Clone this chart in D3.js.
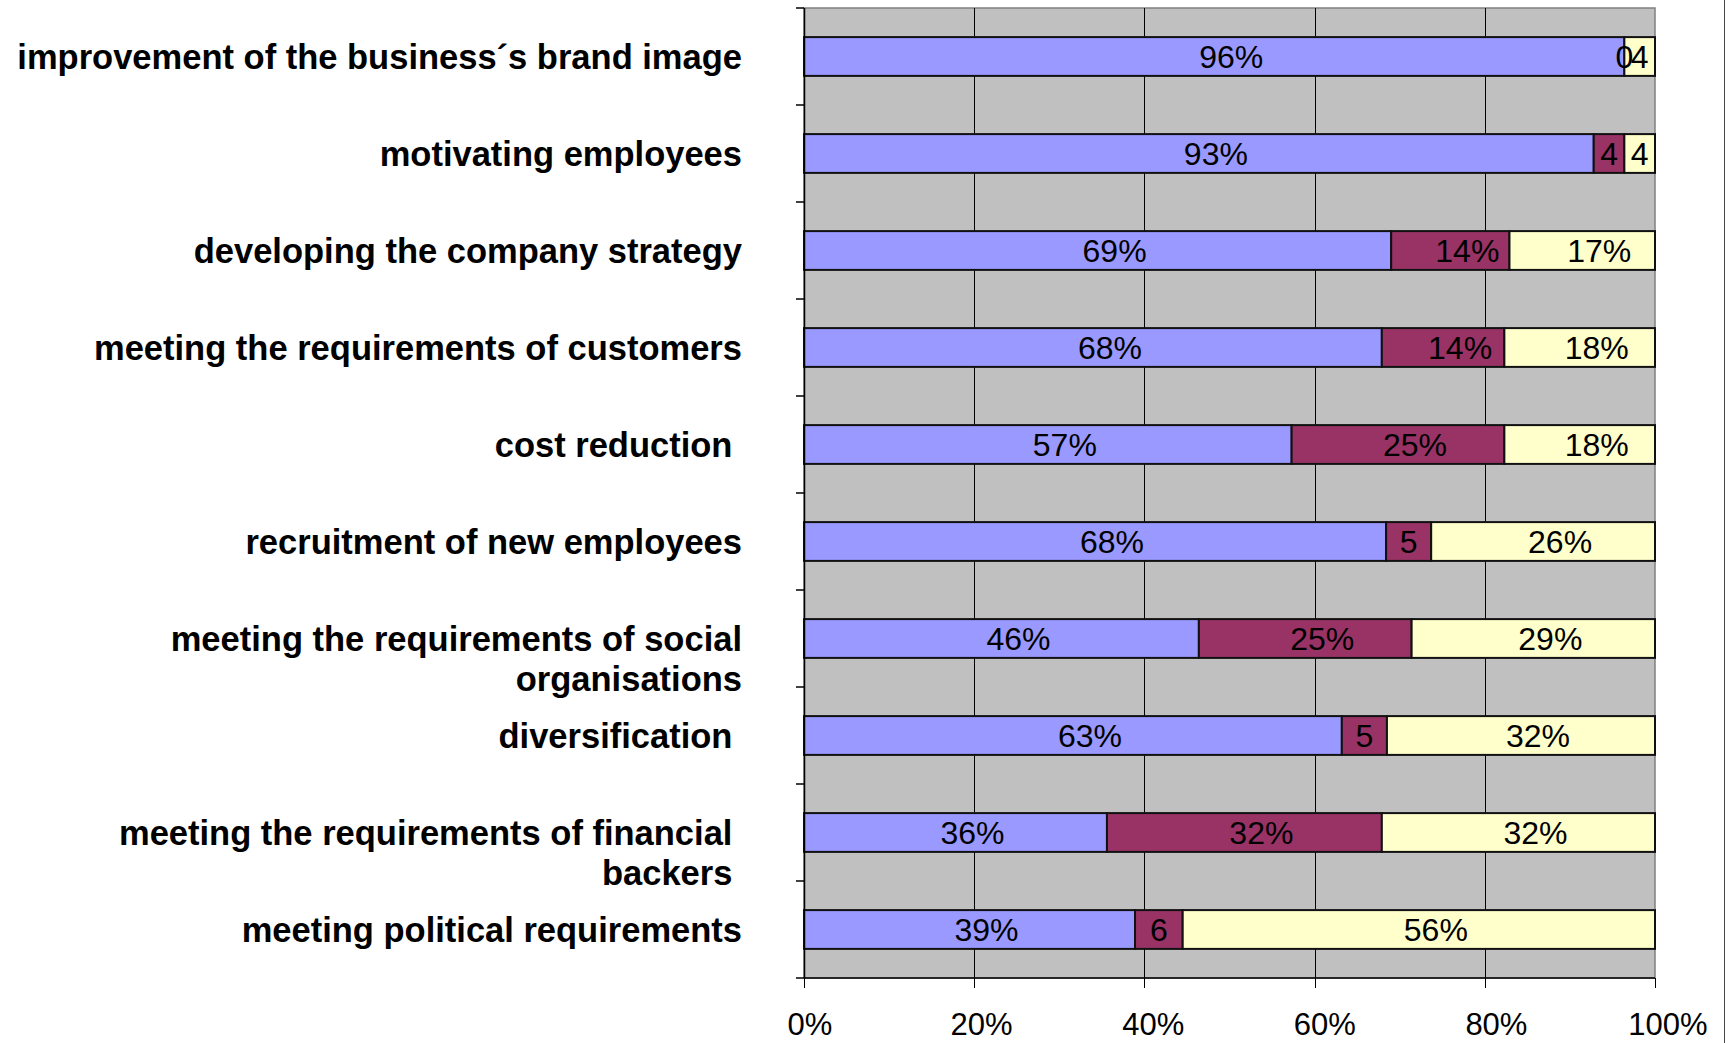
<!DOCTYPE html>
<html>
<head>
<meta charset="utf-8">
<script src="https://cdn.jsdelivr.net/npm/d3@7"></script>
<style>
  body { margin: 0; background: #fff; }
  text { font-family: "Liberation Sans", Arial, sans-serif; white-space: pre; }
</style>
</head>
<body>
<script>
// Categories (top to bottom), each label split into lines
var categories = [
  ["improvement of the business\u00b4s brand image"],
  ["motivating employees"],
  ["developing the company strategy"],
  ["meeting the requirements of customers"],
  ["cost reduction "],
  ["recruitment of new employees"],
  ["meeting the requirements of social", "organisations"],
  ["diversification "],
  ["meeting the requirements of financial ", "backers "],
  ["meeting political requirements"]
];

// Series values (%)
var blueValues   = [96.4, 92.8, 69.0, 67.9, 57.3, 68.4, 46.4, 63.2, 35.6, 38.9];
var maroonValues = [0.0,  3.6,  13.9, 14.4, 25.0, 5.3,  25.0, 5.3,  32.3, 5.6];
var yellowValues = [3.6,  3.6,  17.1, 17.7, 17.7, 26.3, 28.6, 31.5, 32.1, 55.5];

var xTicks = [0, 20, 40, 60, 80, 100];
var seriesColors = ["#9999FF", "#993366", "#FFFFCC"];

var svgWidth = 1728, svgHeight = 1043;
var chartMargin = { top: 8, right: 73, bottom: 65, left: 804 };
var chartWidth = svgWidth - chartMargin.left - chartMargin.right;
var chartHeight = svgHeight - chartMargin.top - chartMargin.bottom;

var svg = d3.select("body").append("svg")
  .attr("width", svgWidth)
  .attr("height", svgHeight);

// outer right frame line
svg.append("line")
  .attr("x1", 1724.5).attr("x2", 1724.5)
  .attr("y1", 0).attr("y2", svgHeight)
  .attr("stroke", "#444").attr("stroke-width", 1);

var chartGroup = svg.append("g")
  .attr("transform", `translate(${chartMargin.left}, ${chartMargin.top})`);

var xScale = d3.scaleLinear().domain([0, 100]).range([0, chartWidth]);
var yScale = d3.scaleBand()
  .domain(d3.range(categories.length))
  .range([0, chartHeight])
  .paddingInner(0.6)
  .paddingOuter(0.3);

// stacked data
var rows = categories.map(function(c, i) {
  return { i: i, blue: blueValues[i], maroon: maroonValues[i], yellow: yellowValues[i] };
});
var stack = d3.stack().keys(["blue", "maroon", "yellow"]);
var series = stack(rows);

// plot background
chartGroup.append("rect")
  .attr("x", 0).attr("y", 0)
  .attr("width", chartWidth).attr("height", chartHeight)
  .attr("fill", "#C0C0C0")
  .attr("stroke", "#808080")
  .attr("stroke-width", 1.5);

// vertical gridlines, extending below as ticks
chartGroup.selectAll(".grid")
  .data(xTicks)
  .enter()
  .append("line")
  .attr("x1", d => Math.round(xScale(d)) + 0.5)
  .attr("x2", d => Math.round(xScale(d)) + 0.5)
  .attr("y1", d => (d === 0 || d === 100) ? chartHeight : 0)
  .attr("y2", chartHeight + 10)
  .attr("stroke", "#000")
  .attr("stroke-width", 1);

// bars
var bandStep = yScale.step();
chartGroup.selectAll(".series")
  .data(series)
  .enter()
  .append("g")
  .attr("fill", (d, i) => seriesColors[i])
  .selectAll("rect")
  .data(d => d)
  .enter()
  .append("rect")
  .attr("x", d => xScale(d[0]))
  .attr("y", d => yScale(d.data.i))
  .attr("width", d => xScale(d[1]) - xScale(d[0]))
  .attr("height", yScale.bandwidth())
  .attr("stroke", "#111")
  .attr("stroke-width", 2);

// value labels (labels with % sit a little right of centre, as in the original)
series.forEach(function(s) {
  chartGroup.selectAll(null)
    .data(s)
    .enter()
    .append("text")
    .attr("x", function(d) {
      var mid = (xScale(d[0]) + xScale(d[1])) / 2;
      return Math.round(d[1] - d[0]) >= 10 ? mid + 17 : mid;
    })
    .attr("y", d => yScale(d.data.i) + yScale.bandwidth() / 2)
    .attr("dy", "0.36em")
    .attr("text-anchor", "middle")
    .attr("font-size", 32)
    .attr("fill", "#000")
    .text(function(d) {
      var v = Math.round(d[1] - d[0]);
      return v >= 10 ? v + "%" : String(v);
    });
});

// left axis line and ticks at band boundaries
chartGroup.append("line")
  .attr("x1", 0.5).attr("x2", 0.5)
  .attr("y1", 0).attr("y2", chartHeight)
  .attr("stroke", "#000").attr("stroke-width", 1.5);
chartGroup.selectAll(".ytick")
  .data(d3.range(categories.length + 1))
  .enter()
  .append("line")
  .attr("x1", -8).attr("x2", 0)
  .attr("y1", d => d * bandStep)
  .attr("y2", d => d * bandStep)
  .attr("stroke", "#000").attr("stroke-width", 1.5);

// bottom axis line
chartGroup.append("line")
  .attr("x1", 0).attr("x2", chartWidth)
  .attr("y1", chartHeight).attr("y2", chartHeight)
  .attr("stroke", "#000").attr("stroke-width", 1.5);

// x tick labels
chartGroup.selectAll(".xlabel")
  .data(xTicks)
  .enter()
  .append("text")
  .attr("x", d => xScale(d) + 6 + d * 0.07)
  .attr("y", chartHeight + 57)
  .attr("text-anchor", "middle")
  .attr("font-size", 31)
  .attr("fill", "#000")
  .text(d => d + "%");

// category labels
var catLabels = chartGroup.selectAll(".cat")
  .data(categories)
  .enter()
  .append("text")
  .attr("text-anchor", "end")
  .attr("font-size", 34.5)
  .attr("font-weight", "bold")
  .attr("fill", "#000")
  .attr("y", (d, i) => yScale(i) + yScale.bandwidth() / 2);

catLabels.selectAll("tspan")
  .data(d => d)
  .enter()
  .append("tspan")
  .attr("x", -62)
  .attr("dy", (d, i) => i === 0 ? "0.36em" : "40px")
  .text(d => d);
</script>
</body>
</html>
